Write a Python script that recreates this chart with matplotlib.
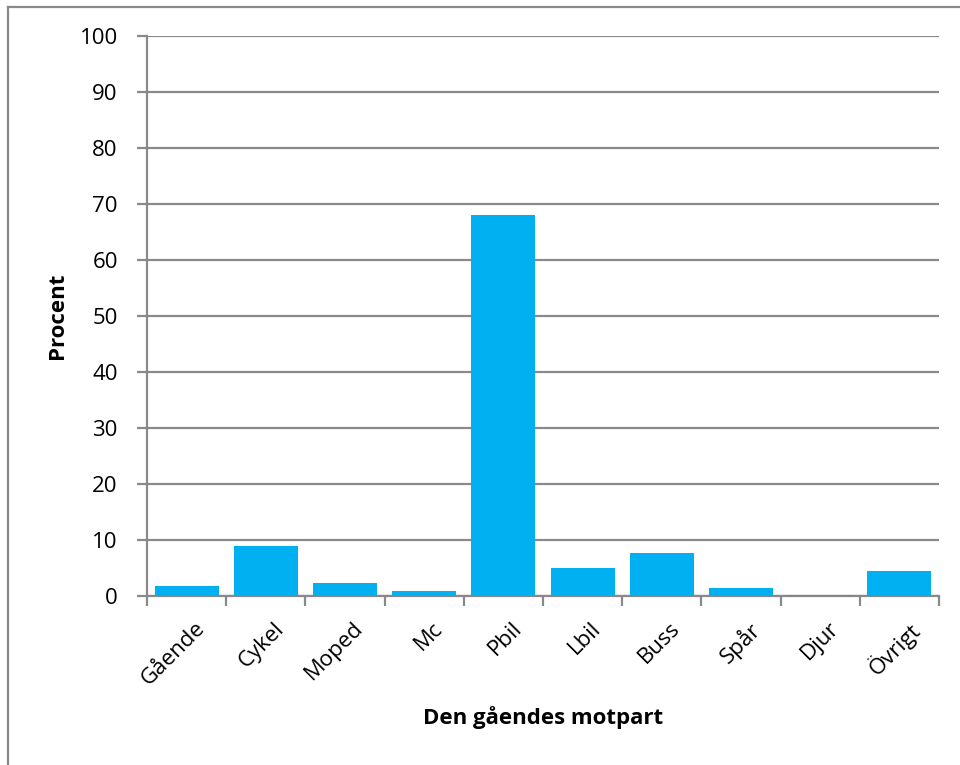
import matplotlib
matplotlib.use("Agg")
import matplotlib.pyplot as plt
from matplotlib.lines import Line2D
from matplotlib.transforms import ScaledTranslation

categories = ["Gående", "Cykel", "Moped", "Mc", "Pbil", "Lbil", "Buss", "Spår", "Djur", "Övrigt"]
values = [1.7, 8.8, 2.3, 0.8, 67.9, 4.9, 7.6, 1.4, 0.2, 4.4]
yticks = list(range(0, 101, 10))

plt.rcParams["font.family"] = ["Open Sans", "DejaVu Sans"]

W, H = 960, 765
fig = plt.figure(figsize=(W / 100, H / 100), dpi=100)
ax = fig.add_axes([147 / W, 1 - 595.7 / H, (939 - 147) / W, (595.7 - 35.7) / H])

grey = "#898989"
x = list(range(len(categories)))
ax.bar(x, values, width=0.81, color="#00B0F0", zorder=3)

ax.set_xlim(-0.5, len(categories) - 0.5)
ax.set_ylim(0, 100)
ax.set_yticks(yticks)
ax.set_yticklabels([str(t) for t in yticks], fontsize=16)
ax.yaxis.grid(True, color=grey, linewidth=1.6, zorder=0)

# category boundaries carry the x ticks
ax.set_xticks([i - 0.5 for i in range(len(categories) + 1)])
ax.set_xticklabels([])
ax.set_xticks(x, minor=True)
ax.set_xticklabels(categories, minor=True, rotation=45, ha="right", va="top",
                   rotation_mode="anchor", fontsize=16)
ax.tick_params(axis="x", which="minor", length=0, pad=16)
ax.tick_params(axis="x", which="major", length=7, width=1.6, color=grey)
ax.tick_params(axis="y", length=7, width=1.6, color=grey, pad=14)
shift = ScaledTranslation(8 / 100, 0, fig.dpi_scale_trans)
for lbl in ax.get_xticklabels(minor=True):
    lbl.set_transform(lbl.get_transform() + shift)

for side in ("top", "right"):
    ax.spines[side].set_visible(False)
for side in ("left", "bottom"):
    ax.spines[side].set_color(grey)
    ax.spines[side].set_linewidth(1.6)

ax.set_ylabel("Procent", fontsize=16, fontweight="bold")
ax.set_xlabel("Den gåendes motpart", fontsize=16, fontweight="bold")
ax.yaxis.set_label_coords((68 - 147) / 792, 0.5)
ax.xaxis.set_label_coords(0.5, (595.7 - 706) / 560)

# chart frame edges
fig.add_artist(Line2D([7.5 / W, 7.5 / W], [0, 1 - 6.5 / H], color=grey, linewidth=1.6,
                      transform=fig.transFigure))
fig.add_artist(Line2D([7.5 / W, 1], [1 - 6.5 / H, 1 - 6.5 / H], color=grey, linewidth=1.6,
                      transform=fig.transFigure))

fig.savefig("out.png", dpi=100)
